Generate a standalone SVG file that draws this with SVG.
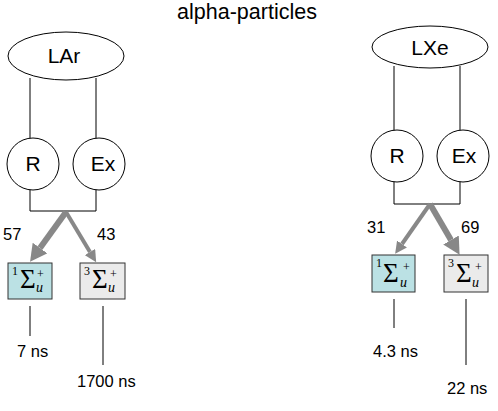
<svg xmlns="http://www.w3.org/2000/svg" width="498" height="411" viewBox="0 0 498 411">
<defs>
<style>
.ln{stroke:#000;stroke-width:1;fill:none}
.nd{stroke:#000;stroke-width:1;fill:#fff}
.t{font-family:"Liberation Sans",Arial,sans-serif;fill:#000}
.big{font-size:21px;text-anchor:middle}
.num{font-size:16.5px}
.sg{font-family:"Liberation Serif","Times New Roman",serif;fill:#000}
.sup{font-size:12px}
.sig{font-size:27px}
.u{font-size:14px;font-style:italic}
.ar{stroke:#888;fill:none}
.sing{fill:#bbe1e4;stroke:#333;stroke-width:1}
.trip{fill:#ebebeb;stroke:#333;stroke-width:1}
</style>
<marker id="hb" markerUnits="userSpaceOnUse" markerWidth="17" markerHeight="18" refX="0" refY="9" orient="auto"><path d="M0,0 L17,9 L0,18 z" fill="#888"/></marker>
<marker id="hs" markerUnits="userSpaceOnUse" markerWidth="12" markerHeight="12" refX="0" refY="6" orient="auto"><path d="M0,0 L12,6 L0,12 z" fill="#888"/></marker>
</defs>
<rect width="498" height="411" fill="#fff"/>
<text class="t" x="247" y="19" font-size="21.5" text-anchor="middle">alpha-particles</text>

<g id="connectors">
<path class="ln" d="M30,78 V139 M96,78 V139 M30,189 V211 H96 V189"/>
<path class="ln" d="M394,66 V131 M460,66 V131 M394,181 V204 H460 V181"/>
<line class="ar" x1="66" y1="212" x2="40" y2="248" stroke-width="6" marker-end="url(#hb)"/>
<line class="ar" x1="66" y1="212" x2="90" y2="252" stroke-width="4" marker-end="url(#hs)"/>
<line class="ar" x1="430" y1="204" x2="402" y2="244" stroke-width="4" marker-end="url(#hs)"/>
<line class="ar" x1="430" y1="204" x2="451" y2="240" stroke-width="6" marker-end="url(#hb)"/>
<path class="ln" d="M30,306 V336 M103,306 V365 M394,299 V328 M466,299 V365"/>
</g>

<g id="lar"><ellipse class="nd" cx="66" cy="56" rx="58" ry="24"/><text class="t big" x="64" y="63">LAr</text></g>
<g id="lar-r"><circle class="nd" cx="33" cy="164" r="26"/><text class="t big" x="33" y="171">R</text></g>
<g id="lar-ex"><circle class="nd" cx="99" cy="164" r="26"/><text class="t big" x="103" y="171">Ex</text></g>
<g id="lxe"><ellipse class="nd" cx="430" cy="47" rx="58" ry="21"/><text class="t big" x="430" y="55">LXe</text></g>
<g id="lxe-r"><circle class="nd" cx="397" cy="156" r="26"/><text class="t big" x="397" y="163">R</text></g>
<g id="lxe-ex"><circle class="nd" cx="463" cy="156" r="26"/><text class="t big" x="464" y="163">Ex</text></g>

<g id="lar-s"><rect class="sing" x="8" y="263" width="44" height="36"/>
<text class="sg sup" x="12" y="275">1</text><text class="sg sig" x="20" y="288">Σ</text><text class="sg sup" x="37" y="278">+</text><text class="sg u" x="36" y="292">u</text></g>
<g id="lar-t"><rect class="trip" x="80" y="263" width="45" height="36"/>
<text class="sg sup" x="84" y="275">3</text><text class="sg sig" x="92" y="288">Σ</text><text class="sg sup" x="110" y="278">+</text><text class="sg u" x="108" y="292">u</text></g>
<g id="lxe-s"><rect class="sing" x="372" y="255" width="43" height="37"/>
<text class="sg sup" x="376" y="267">1</text><text class="sg sig" x="383" y="282">Σ</text><text class="sg sup" x="403" y="271">+</text><text class="sg u" x="400" y="287">u</text></g>
<g id="lxe-t"><rect class="trip" x="444" y="255" width="44" height="37"/>
<text class="sg sup" x="448" y="267">3</text><text class="sg sig" x="456" y="282">Σ</text><text class="sg sup" x="475" y="271">+</text><text class="sg u" x="472" y="287">u</text></g>

<g id="labels">
<text class="t num" x="3" y="240">57</text>
<text class="t num" x="97" y="240">43</text>
<text class="t num" x="367" y="233">31</text>
<text class="t num" x="461" y="233">69</text>
<text class="t num" x="17" y="357">7 ns</text>
<text class="t num" x="77" y="387">1700 ns</text>
<text class="t num" x="373" y="357">4.3 ns</text>
<text class="t num" x="447" y="394">22 ns</text>
</g>
</svg>
